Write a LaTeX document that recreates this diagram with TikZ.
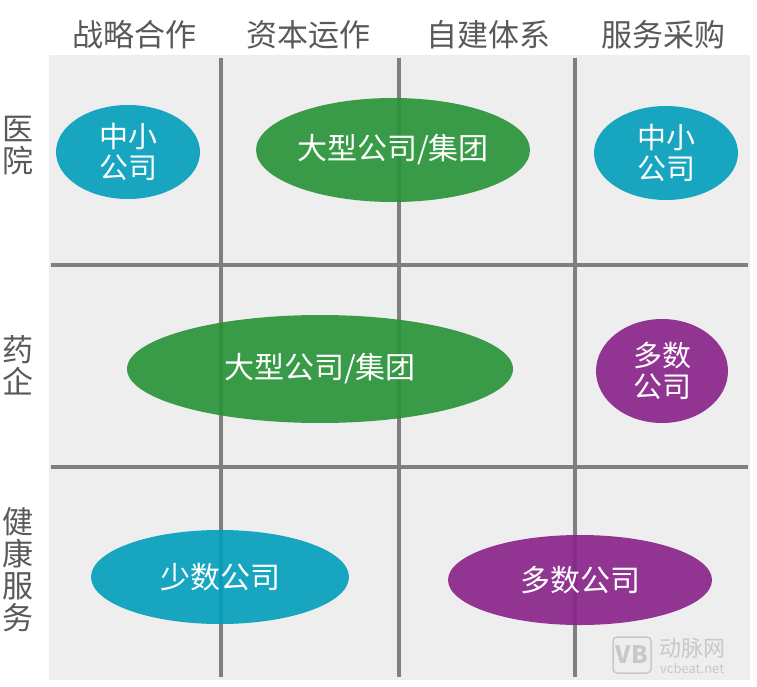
\documentclass[tikz,border=0pt]{standalone}
\usepackage{fontspec}
\setmainfont{Noto Sans CJK SC}
\usetikzlibrary{shapes.geometric}

\begin{document}
\begin{tikzpicture}[x=1pt,y=-1pt,
  hdr/.style={text=labgray,font=\fontsize{31}{32}\selectfont,inner sep=0pt,align=center},
  blob/.style={ellipse,inner sep=0pt,fill opacity=.9,text opacity=1,text=white,
    align=center,font=\fontsize{30}{31}\selectfont},
  twoline/.style={font=\fontsize{29}{31}\selectfont},
  gridline/.style={line width=4pt,draw=linegray}]
  \definecolor{panelgray}{HTML}{EEEEEE}%
  \definecolor{linegray}{HTML}{7F7F7F}%
  \definecolor{labgray}{HTML}{595959}%
  \definecolor{bluecol}{HTML}{009EBC}%
  \definecolor{greencol}{HTML}{269336}%
  \definecolor{purplecol}{HTML}{892188}%
  \definecolor{markgray}{HTML}{C8C8C8}%
  \useasboundingbox (0,0) rectangle (757,687);
  \fill[panelgray] (49,55) rectangle (750,680);
  % grid
  \foreach \x/\nm in {221/va,399/vb,575/vc}{
    \coordinate (\nm top) at (\x,58);
    \coordinate (\nm bot) at (\x,677);
    \draw[gridline] (\nm top) -- (\nm bot);
  }
  \foreach \y/\nm in {265/ha,467/hb}{
    \coordinate (\nm left) at (51,\y);
    \coordinate (\nm right) at (748,\y);
    \draw[gridline] (\nm left) -- (\nm right);
  }
  % headers
  \foreach \x/\txt/\nm in {134/战略合作/hzl,308/资本运作/hzb,488/自建体系/hzj,663/服务采购/hfw}
    \node[hdr] (\nm) at (\x,35) {\txt};
  \node[hdr] (ryy) at (18,146) {医\\院};
  \node[hdr] (ryq) at (18,365) {药\\企};
  \node[hdr] (rjk) at (18,570) {健\\康\\服\\务};
  % blobs
  \node[blob,twoline,fill=bluecol,minimum width=144,minimum height=94] (yysmall) at (128,152) {中小\\公司};
  \node[blob,fill=greencol,minimum width=274,minimum height=104] (yybig) at (393,150) {大型公司/集团};
  \node[blob,twoline,fill=bluecol,minimum width=144,minimum height=94] (yybuy) at (666,153) {中小\\公司};
  \node[blob,fill=greencol,minimum width=386,minimum height=108] (yqbig) at (320,369) {大型公司/集团};
  \node[blob,twoline,fill=purplecol,minimum width=132,minimum height=104] (yqbuy) at (662,371) {多数\\公司};
  \node[blob,fill=bluecol,minimum width=258,minimum height=94] (jkfew) at (220,577) {少数公司};
  \node[blob,fill=purplecol,minimum width=264,minimum height=90] (jkmany) at (580,580) {多数公司};
  % watermark
  \node[draw=markgray,line width=1.5pt,rounded corners=4pt,text=markgray,inner sep=1pt,
    minimum width=38,minimum height=36,font=\fontsize{24}{24}\selectfont\bfseries] (wmlogo) at (632,655) {VB};
  \node[text=markgray,inner sep=0pt,anchor=west,font=\fontsize{22}{22}\selectfont] (wmname) at (659,648) {动脉网};
  \node[text=markgray,inner sep=0pt,anchor=west,font=\fontsize{13}{13}\selectfont] (wmurl) at (660,668) {vcbeat.net};
\end{tikzpicture}
\end{document}
